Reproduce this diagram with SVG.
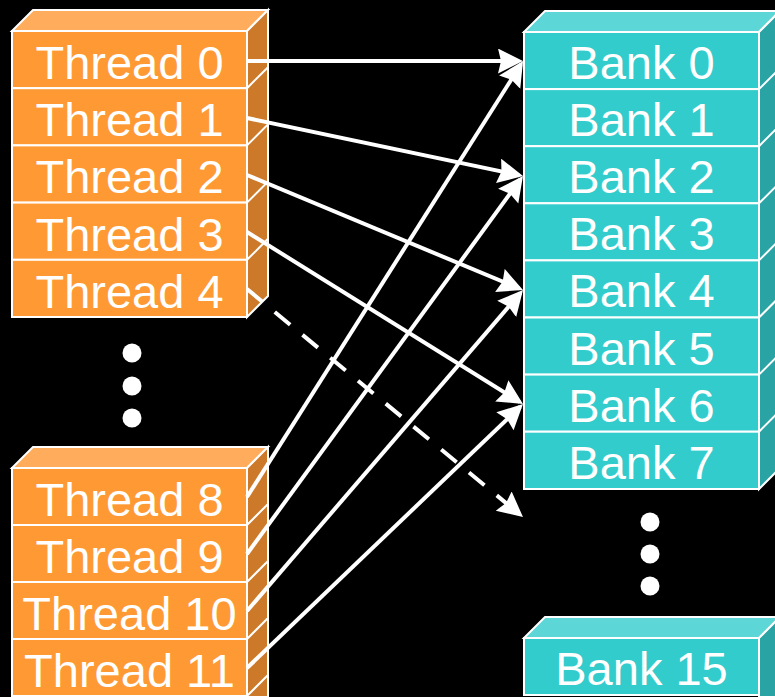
<svg xmlns="http://www.w3.org/2000/svg" width="775" height="697" viewBox="0 0 775 697">
<style>
.bg{fill:#000}
.of{fill:#FF9933;stroke:#fff;stroke-width:2}
.ot{fill:#FFAD5C;stroke:#fff;stroke-width:2}
.os{fill:#CC7A29;stroke:#fff;stroke-width:2}
.tf{fill:#33CCCC;stroke:#fff;stroke-width:2}
.tt{fill:#5CD6D6;stroke:#fff;stroke-width:2}
.ts{fill:#29A3A3;stroke:#fff;stroke-width:2}
.sl{stroke:#fff;stroke-width:2;fill:none}
.lb{font-family:"Liberation Sans",Arial,sans-serif;font-size:47px;fill:#fff;text-anchor:middle}
.ar{stroke:#fff;stroke-width:4;fill:none;marker-end:url(#ah)}
.dash{stroke-dasharray:20 16}
.dot{fill:#fff}
</style>
<defs>
<marker id="ah" markerUnits="userSpaceOnUse" markerWidth="26" markerHeight="26" refX="21" refY="12.5" orient="auto" viewBox="0 0 26 26">
<path d="M0,0 L25,12.5 L0,25 L3,12.5 z" fill="#fff"/>
</marker>
</defs>
<rect class="bg" x="0" y="0" width="775" height="697"/>

<g id="threads-top">
<polygon class="ot" points="12,31 33,10 268,10 247,31"/>
<polygon class="os" points="247,31 268,10 268,296 247,317"/>
<g id="thread0"><rect class="of" x="12" y="31" width="235" height="57.2"/><line class="sl" x1="247" y1="88.2" x2="268" y2="67.2"/><text class="lb" x="129.5" y="79">Thread 0</text></g>
<g id="thread1"><rect class="of" x="12" y="88.2" width="235" height="57.2"/><line class="sl" x1="247" y1="145.4" x2="268" y2="124.4"/><text class="lb" x="129.5" y="136.2">Thread 1</text></g>
<g id="thread2"><rect class="of" x="12" y="145.4" width="235" height="57.2"/><line class="sl" x1="247" y1="202.6" x2="268" y2="181.6"/><text class="lb" x="129.5" y="193.4">Thread 2</text></g>
<g id="thread3"><rect class="of" x="12" y="202.6" width="235" height="57.2"/><line class="sl" x1="247" y1="259.8" x2="268" y2="238.8"/><text class="lb" x="129.5" y="250.6">Thread 3</text></g>
<g id="thread4"><rect class="of" x="12" y="259.8" width="235" height="57.2"/><text class="lb" x="129.5" y="307.8">Thread 4</text></g>
</g>

<g id="thread-dots">
<circle class="dot" cx="132" cy="353" r="9.5"/>
<circle class="dot" cx="132" cy="386" r="9.5"/>
<circle class="dot" cx="132" cy="418" r="9.5"/>
</g>

<g id="threads-bottom">
<polygon class="ot" points="12,468 33,447 268,447 247,468"/>
<polygon class="os" points="247,468 268,447 268,697 247,697"/>
<g id="thread8"><rect class="of" x="12" y="468" width="235" height="57"/><line class="sl" x1="247" y1="525" x2="268" y2="504"/><text class="lb" x="129.5" y="516">Thread 8</text></g>
<g id="thread9"><rect class="of" x="12" y="525" width="235" height="57"/><line class="sl" x1="247" y1="582" x2="268" y2="561"/><text class="lb" x="129.5" y="573">Thread 9</text></g>
<g id="thread10"><rect class="of" x="12" y="582" width="235" height="57"/><line class="sl" x1="247" y1="639" x2="268" y2="618"/><text class="lb" x="129.5" y="630">Thread 10</text></g>
<g id="thread11"><rect class="of" x="12" y="639" width="235" height="57"/><line class="sl" x1="247" y1="696" x2="268" y2="675"/><text class="lb" x="129.5" y="687">Thread 11</text></g>
</g>

<g id="banks">
<polygon class="tt" points="524,32 545,11 780,11 759,32"/>
<polygon class="ts" points="759,32 780,11 780,468 759,489"/>
<g id="bank0"><rect class="tf" x="524" y="32" width="235" height="57.1"/><line class="sl" x1="759" y1="89.1" x2="780" y2="68.1"/><text class="lb" x="641.5" y="79">Bank 0</text></g>
<g id="bank1"><rect class="tf" x="524" y="89.1" width="235" height="57.1"/><line class="sl" x1="759" y1="146.2" x2="780" y2="125.2"/><text class="lb" x="641.5" y="136.1">Bank 1</text></g>
<g id="bank2"><rect class="tf" x="524" y="146.2" width="235" height="57.1"/><line class="sl" x1="759" y1="203.3" x2="780" y2="182.3"/><text class="lb" x="641.5" y="193.2">Bank 2</text></g>
<g id="bank3"><rect class="tf" x="524" y="203.3" width="235" height="57.1"/><line class="sl" x1="759" y1="260.4" x2="780" y2="239.4"/><text class="lb" x="641.5" y="250.3">Bank 3</text></g>
<g id="bank4"><rect class="tf" x="524" y="260.4" width="235" height="57.1"/><line class="sl" x1="759" y1="317.5" x2="780" y2="296.5"/><text class="lb" x="641.5" y="307.4">Bank 4</text></g>
<g id="bank5"><rect class="tf" x="524" y="317.5" width="235" height="57.1"/><line class="sl" x1="759" y1="374.6" x2="780" y2="353.6"/><text class="lb" x="641.5" y="364.5">Bank 5</text></g>
<g id="bank6"><rect class="tf" x="524" y="374.6" width="235" height="57.1"/><line class="sl" x1="759" y1="431.7" x2="780" y2="410.7"/><text class="lb" x="641.5" y="421.6">Bank 6</text></g>
<g id="bank7"><rect class="tf" x="524" y="431.7" width="235" height="57.3"/><text class="lb" x="641.5" y="478.7">Bank 7</text></g>
</g>

<g id="bank-dots">
<circle class="dot" cx="650" cy="522" r="9.5"/>
<circle class="dot" cx="650" cy="554" r="9.5"/>
<circle class="dot" cx="650" cy="586" r="9.5"/>
</g>

<g id="bank15">
<polygon class="tt" points="524,638 545,617 780,617 759,638"/>
<polygon class="ts" points="759,638 780,617 780,697 759,697"/>
<rect class="tf" x="524" y="638" width="235" height="57"/>
<text class="lb" x="641.5" y="685">Bank 15</text>
</g>

<g id="connectors">
<line class="ar" x1="247" y1="61" x2="519" y2="61"/>
<line class="ar" x1="247" y1="118" x2="519.1" y2="175.2"/>
<line class="ar" x1="247" y1="175" x2="519.3" y2="288.5"/>
<line class="ar" x1="247" y1="232" x2="519.6" y2="401.9"/>
<line class="ar dash" x1="247" y1="289" x2="519.9" y2="514.5"/>
<line class="ar" x1="247" y1="497" x2="520.9" y2="64.4"/>
<line class="ar" x1="247" y1="554" x2="520.6" y2="179.2"/>
<line class="ar" x1="247" y1="611" x2="520.4" y2="293"/>
<line class="ar" x1="247" y1="668" x2="520.1" y2="406.8"/>
</g>
</svg>
